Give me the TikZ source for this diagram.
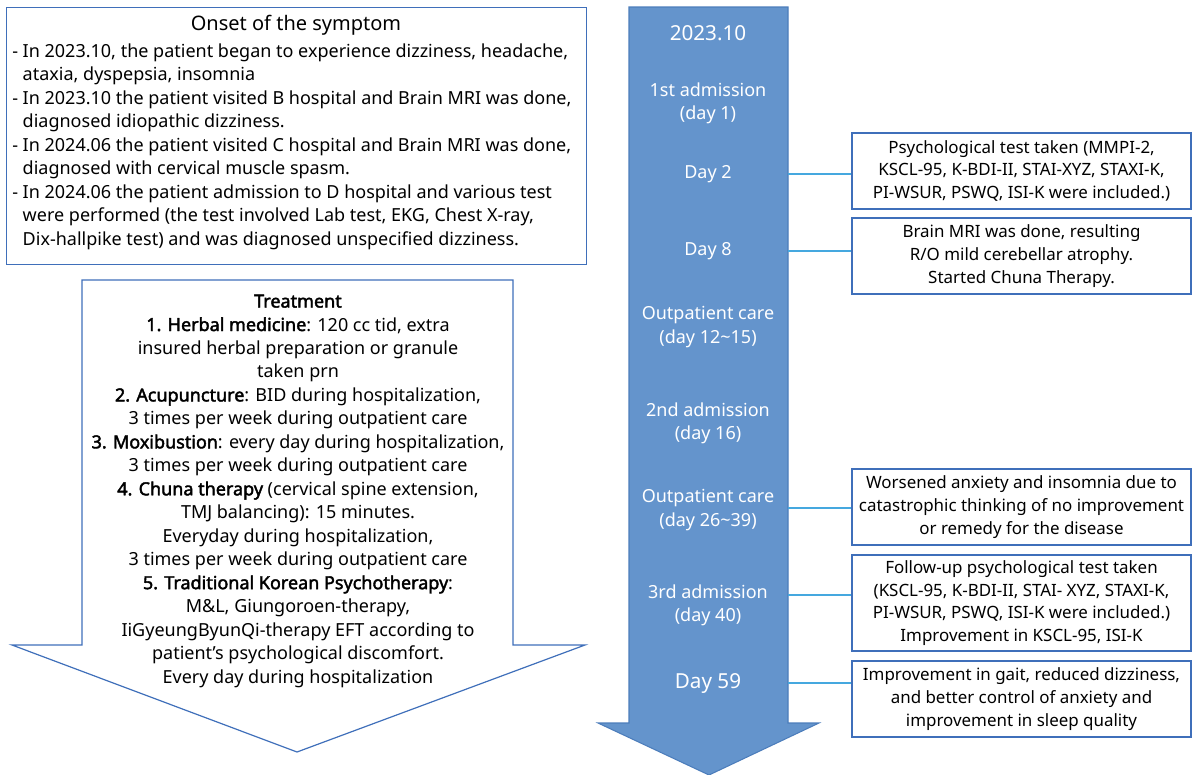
\documentclass[tikz,border=0pt]{standalone}
\usepackage{fontspec}
\setmainfont{Noto Sans}
\newfontfamily\heavyfont{Noto Sans}[FakeBold=2.2]
\newcommand{\hb}[1]{{\heavyfont #1}}
\definecolor{boxblue}{HTML}{3F6FBA}
\definecolor{arrowfill}{HTML}{6494CC}
\definecolor{arrowedge}{HTML}{4C7DBB}
\definecolor{linkblue}{HTML}{45A8DF}
\tikzset{
  bodytxt/.style={font=\fontsize{13.5}{17.6}\selectfont, inner sep=0pt, align=center},
  titletxt/.style={font=\fontsize{15}{18}\selectfont, inner sep=0pt},
  lbl/.style={font=\fontsize{13.5}{17.3}\selectfont, text=white, inner sep=0pt, align=center},
  biglbl/.style={font=\fontsize{15.5}{18}\selectfont, text=white, inner sep=0pt},
  eventbox/.style={draw=boxblue, line width=0.9pt, minimum width=254.25pt, inner sep=0pt, align=center,
    font=\fontsize{12.7}{17.1}\selectfont},
  link/.style={draw=linkblue, line width=1pt},
  outline/.style={draw=boxblue, line width=0.9pt}
}
\begin{document}
\begin{tikzpicture}[x=0.75pt,y=-0.75pt]
\useasboundingbox (0,0) rectangle (1193,775);

% ---------- Onset box ----------
\node[outline, minimum width=435pt, minimum height=192.75pt, anchor=north west, inner sep=0pt] (onset) at (6,7) {};
\node[titletxt] (onsettitle) at (296,25) {Onset of the symptom};
\node[bodytxt, align=left, anchor=west] (onsetbody) at (12,146.5) {%
- In 2023.10, the patient began to experience dizziness, headache,\\
\phantom{- }ataxia, dyspepsia, insomnia\\
- In 2023.10 the patient visited B hospital and Brain MRI was done,\\
\phantom{- }diagnosed idiopathic dizziness.\\
- In 2024.06 the patient visited C hospital and Brain MRI was done,\\
\phantom{- }diagnosed with cervical muscle spasm.\\
- In 2024.06 the patient admission to D hospital and various test\\
\phantom{- }were performed (the test involved Lab test, EKG, Chest X-ray,\\
\phantom{- }Dix-hallpike test) and was diagnosed unspecified dizziness.};

% ---------- Treatment arrow ----------
\draw[outline, fill=white] (82,280) -- (513,280) -- (513,645) -- (585,645) -- (297,752)
  -- (12,645) -- (82,645) -- cycle;
\node[bodytxt] (treat) at (298,491) {%
\hb{Treatment}\\
\hb{1. Herbal medicine}: 120 cc tid, extra\\
insured herbal preparation or granule\\
taken prn\\
\hb{2. Acupuncture}: BID during hospitalization,\\
3 times per week during outpatient care\\
\hb{3. Moxibustion}: every day during hospitalization,\\
3 times per week during outpatient care\\
\hb{4. Chuna therapy} (cervical spine extension,\\
TMJ balancing): 15 minutes.\\
Everyday during hospitalization,\\
3 times per week during outpatient care\\
\hb{5. Traditional Korean Psychotherapy}:\\
M\&L, Giungoroen-therapy,\\
IiGyeungByunQi-therapy EFT according to\\
patient’s psychological discomfort.\\
Every day during hospitalization};

% ---------- Timeline arrow ----------
\draw[draw=arrowedge, line width=0.8pt, fill=arrowfill] (629,7) -- (788,7) -- (788,723) -- (819,723)
  -- (709,775) -- (598,723) -- (629,723) -- cycle;
\coordinate (rail) at (788,0);

\node[biglbl] (l0) at (708,33) {2023.10};
\node[lbl] (l1) at (708,103.5) {1st admission\\(day 1)};
\node[lbl] (l2) at (708,174) {Day 2};
\node[lbl] (l3) at (708,251) {Day 8};
\node[lbl] (l4) at (708,327) {Outpatient care\\(day 12\textasciitilde 15)};
\node[lbl] (l5) at (708,423) {2nd admission\\(day 16)};
\node[lbl] (l6) at (708,510) {Outpatient care\\(day 26\textasciitilde 39)};
\node[lbl] (l7) at (708,605.5) {3rd admission\\(day 40)};
\node[biglbl] (l8) at (708,683) {Day 59};

% ---------- Event boxes ----------
\node[eventbox, minimum height=57pt] (b1) at (1021.5,171) {Psychological test taken (MMPI-2,\\KSCL-95, K-BDI-II, STAI-XYZ, STAXI-K,\\PI-WSUR, PSWQ, ISI-K were included.)};
\node[eventbox, minimum height=57pt] (b2) at (1021.5,256) {Brain MRI was done, resulting\\R/O mild cerebellar atrophy.\\Started Chuna Therapy.};
\node[eventbox, minimum height=57pt] (b3) at (1021.5,507) {Worsened anxiety and insomnia due to\\catastrophic thinking of no improvement\\or remedy for the disease};
\node[eventbox, minimum height=72pt] (b4) at (1021.5,603) {Follow-up psychological test taken\\(KSCL-95, K-BDI-II, STAI- XYZ, STAXI-K,\\PI-WSUR, PSWQ, ISI-K were included.)\\Improvement in KSCL-95, ISI-K};
\node[eventbox, minimum height=57pt] (b5) at (1021.5,699) {Improvement in gait, reduced dizziness,\\and better control of anxiety and\\improvement in sleep quality};

% ---------- Connectors ----------
\draw[link] (l2 -| rail) -- (l2 -| b1.west);
\draw[link] (l3 -| rail) -- (l3 -| b2.west);
\draw[link] ([yshift=1.5pt]l6.center -| rail) -- ([yshift=1.5pt]l6.center -| b3.west);
\draw[link] ([yshift=8pt]l7.center -| rail) -- ([yshift=8pt]l7.center -| b4.west);
\draw[link] (l8 -| rail) -- (l8 -| b5.west);
\end{tikzpicture}
\end{document}
